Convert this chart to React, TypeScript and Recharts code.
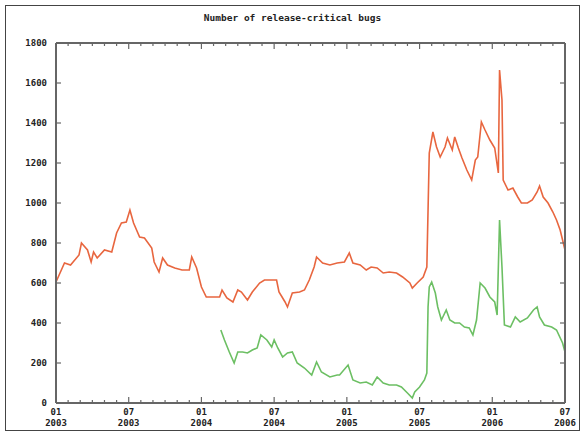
import { LineChart, Line, XAxis, YAxis } from 'recharts';

// months since 01/2003, value
const releaseMonths = [
  0.0, 0.7, 1.2, 1.9, 2.1, 2.6, 2.9, 3.1, 3.4, 4.0, 4.6, 5.0, 5.4, 5.8, 6.1, 6.4, 6.9, 7.3, 7.9, 8.1,
  8.5, 8.8, 9.2, 9.8, 10.4, 11.0, 11.2, 11.6, 12.0, 12.4, 12.9, 13.5, 13.7, 14.1, 14.6, 15.0, 15.3,
  15.8, 16.2, 16.8, 17.2, 17.8, 18.2, 18.4, 18.9, 19.1, 19.5, 20.1, 20.5, 20.9, 21.3, 21.5, 22.0,
  22.6, 23.2, 23.8, 24.2, 24.5, 25.1, 25.6, 26.0, 26.5, 27.0, 27.5, 28.1, 28.6, 29.2, 29.4, 29.8,
  30.3, 30.6, 30.8, 31.1, 31.4, 31.7, 32.1, 32.3, 32.7, 32.9, 33.2, 33.5, 33.9, 34.3, 34.6, 34.8,
  35.1, 35.4, 35.8, 36.2, 36.5, 36.6, 36.8, 36.9, 37.3, 37.7, 38.1, 38.4, 38.9, 39.3, 39.7, 39.9,
  40.2, 40.6, 41.0, 41.3, 41.6, 41.8, 42.0,
];
const releaseBugs = [
  605, 700, 690, 740, 800, 765, 705, 755, 725, 765, 755, 850, 900, 905, 965, 900, 830, 825, 775, 705,
  655, 725, 690, 675, 665, 665, 730, 675, 580, 530, 530, 530, 565, 525, 505, 565, 555,
  515, 555, 600, 615, 615, 615, 555, 505, 480, 550, 555, 565, 615, 680, 730, 700,
  690, 700, 705, 750, 700, 690, 665, 680, 675, 650, 655, 650, 630, 600, 575, 600,
  630, 680, 1250, 1355, 1280, 1230, 1280, 1325, 1265, 1330, 1275, 1225, 1165, 1115, 1215, 1230,
  1405, 1365, 1315, 1275, 1150, 1665, 1515, 1115, 1065, 1075, 1030, 1000, 1000, 1015, 1055, 1085,
  1030, 1000, 955, 915, 865, 815, 765,
];

const otherMonths = [
  13.6, 13.9, 14.3, 14.7, 15.0, 15.4, 15.8, 16.2, 16.6, 16.9, 17.4, 17.8, 18.0, 18.3, 18.7, 19.1,
  19.5, 19.9, 20.5, 21.1, 21.5, 21.9, 22.6, 23.2, 23.4, 24.1, 24.5, 25.1, 25.6, 26.1, 26.5, 27.0,
  27.5, 28.1, 28.5, 29.0, 29.4, 29.6, 30.0, 30.4, 30.6, 30.7, 30.8, 31.0, 31.3, 31.5, 31.8, 32.2,
  32.5, 32.9, 33.3, 33.7, 34.1, 34.4, 34.7, 35.0, 35.4, 35.8, 36.2, 36.4, 36.6, 36.8, 37.0, 37.5,
  37.9, 38.3, 38.9, 39.4, 39.7, 39.9, 40.3, 40.9, 41.3, 41.8, 42.0,
];
const otherBugs = [
  365, 315, 255, 200, 255, 255, 250, 265, 275, 340, 315, 280, 315, 275, 230, 250,
  255, 200, 175, 140, 205, 155, 130, 140, 140, 190, 115, 100, 105, 90, 130, 100,
  90, 90, 80, 50, 25, 55, 80, 115, 150, 480, 580, 605, 550, 480, 415, 465,
  415, 400, 400, 380, 375, 340, 415, 600, 575, 530, 505, 440, 915, 680, 390, 380,
  430, 405, 425, 465, 480, 430, 390, 380, 365, 300, 255,
];

const yTicks = [0, 200, 400, 600, 800, 1000, 1200, 1400, 1600, 1800];
const xMajorTicks = [0, 6, 12, 18, 24, 30, 36, 42];
const xTickMonth = ['01', '07', '01', '07', '01', '07', '01', '07'];
const xTickYear = ['2003', '2003', '2004', '2004', '2005', '2005', '2006', '2006'];
const xAllTicks = Array.from({ length: 43 }, (_, i) => i);

const releaseData = releaseMonths.map((t, i) => ({ t, v: releaseBugs[i] }));
const otherData = otherMonths.map((t, i) => ({ t, v: otherBugs[i] }));

const FONT = '"DejaVu Sans Mono", monospace';
const AXIS = { stroke: '#666', strokeWidth: 2 };

const BottomTick = (props: any) => {
  const { x, y, payload } = props;
  const idx = xMajorTicks.indexOf(payload.value);
  const major = idx >= 0;
  return (
    <g>
      <line x1={x} x2={x} y1={y} y2={y - (major ? 6 : 3)} stroke="#666" strokeWidth={1.2} />
      {major && (
        <text x={x} y={y + 12} textAnchor="middle" fontFamily={FONT} fontSize={9} fontWeight="bold" fill="#222">
          <tspan x={x}>{xTickMonth[idx]}</tspan>
          <tspan x={x} dy={11}>{xTickYear[idx]}</tspan>
        </text>
      )}
    </g>
  );
};

const TopTick = (props: any) => {
  const { x, y, payload } = props;
  const major = xMajorTicks.includes(payload.value);
  return <line x1={x} x2={x} y1={y} y2={y + (major ? 6 : 3)} stroke="#666" strokeWidth={1.2} />;
};

const LeftTick = (props: any) => {
  const { x, y, payload } = props;
  return (
    <g>
      <line x1={x} x2={x + 5} y1={y} y2={y} stroke="#666" strokeWidth={1.2} />
      <text x={x - 9} y={y + 3} textAnchor="end" fontFamily={FONT} fontSize={9} fontWeight="bold" fill="#222">
        {payload.value}
      </text>
    </g>
  );
};

const RightTick = (props: any) => {
  const { x, y } = props;
  return <line x1={x} x2={x - 5} y1={y} y2={y} stroke="#666" strokeWidth={1.2} />;
};

export default function App() {
  return (
    <div style={{ position: 'absolute', left: 0, top: 0, width: 585, height: 436, background: '#fff' }}>
      <div
        style={{
          position: 'absolute',
          left: 5,
          top: 5,
          width: 573,
          height: 424,
          border: '1.5px solid #444',
        }}
      />
      <div
        style={{
          position: 'absolute',
          top: 12,
          width: 585,
          textAlign: 'center',
          fontFamily: FONT,
          fontSize: 9.5,
          fontWeight: 'bold',
          color: '#222',
        }}
      >
        Number of release-critical bugs
      </div>
      <div style={{ position: 'absolute', left: 0, top: 0 }}>
        <LineChart width={585} height={436} margin={{ top: 42, right: 19, bottom: 0, left: 0 }}>
          <XAxis
            xAxisId="b"
            dataKey="t"
            type="number"
            domain={[0, 42]}
            ticks={xAllTicks}
            interval={0}
            height={33}
            axisLine={AXIS}
            tickLine={false}
            tickSize={0}
            tickMargin={0}
            tick={<BottomTick />}
          />
          <XAxis
            xAxisId="t"
            orientation="top"
            dataKey="t"
            type="number"
            domain={[0, 42]}
            ticks={xAllTicks}
            interval={0}
            height={1}
            axisLine={AXIS}
            tickLine={false}
            tickSize={0}
            tickMargin={0}
            tick={<TopTick />}
          />
          <YAxis
            yAxisId="l"
            type="number"
            domain={[0, 1800]}
            ticks={yTicks}
            interval={0}
            width={56}
            axisLine={AXIS}
            tickLine={false}
            tickSize={0}
            tickMargin={0}
            tick={<LeftTick />}
          />
          <YAxis
            yAxisId="r"
            orientation="right"
            type="number"
            domain={[0, 1800]}
            ticks={yTicks}
            interval={0}
            width={1}
            axisLine={AXIS}
            tickLine={false}
            tickSize={0}
            tickMargin={0}
            tick={<RightTick />}
          />
          <Line
            xAxisId="b"
            yAxisId="l"
            data={releaseData}
            dataKey="v"
            type="linear"
            stroke="#e8663f"
            strokeWidth={1.6}
            dot={false}
            isAnimationActive={false}
          />
          <Line
            xAxisId="b"
            yAxisId="l"
            data={otherData}
            dataKey="v"
            type="linear"
            stroke="#6cbf63"
            strokeWidth={1.6}
            dot={false}
            isAnimationActive={false}
          />
          <Line
            xAxisId="t"
            yAxisId="r"
            data={otherData}
            dataKey="v"
            stroke="none"
            dot={false}
            legendType="none"
            isAnimationActive={false}
          />
        </LineChart>
      </div>
    </div>
  );
}
